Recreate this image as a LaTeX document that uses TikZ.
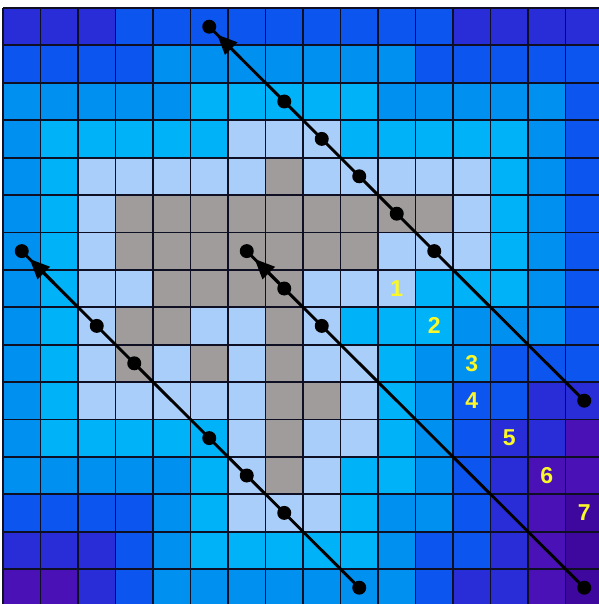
\documentclass[tikz,border=0pt]{standalone}
\usepackage{fontspec}
\newfontfamily\labfont{Liberation Sans}
\usetikzlibrary{calc,arrows.meta}
\definecolor{d0}{RGB}{160,156,156}
\definecolor{d1}{RGB}{170,206,250}
\definecolor{d2}{RGB}{0,178,248}
\definecolor{d3}{RGB}{0,145,240}
\definecolor{d4}{RGB}{12,85,238}
\definecolor{d5}{RGB}{40,45,215}
\definecolor{d6}{RGB}{74,18,182}
\definecolor{d7}{RGB}{62,8,158}
\definecolor{labyellow}{RGB}{250,248,40}
\definecolor{gridcol}{RGB}{15,15,35}
\begin{document}
\begin{tikzpicture}[x=37.5pt,y=-37.4pt,
  gridline/.style={line width=1.8pt,draw=gridcol},
  conn/.style={line width=2.9pt,draw=black},
  dotnode/.style={circle,fill=black,inner sep=0pt,minimum size=14pt},
  arrhead/.style={line width=2.9pt,draw=black,fill=black,-{Triangle[length=20pt,width=17pt]}},
  lab/.style={text=labyellow,font=\labfont\bfseries\fontsize{23}{23}\selectfont,inner sep=0pt}]
\useasboundingbox (-0.08,-0.2139) rectangle (15.893,15.936);
\fill[white] (-0.08,-0.2139) rectangle (15.893,15.936);
\begin{scope}
\clip (-0.08,-0.2139) rectangle (15.893,15.936);
\foreach \rowvals [count=\r from 0] in {
  {5,5,5,4,4,4,4,4,4,4,4,4,5,5,5,5},
  {4,4,4,4,3,3,3,3,3,3,3,4,4,4,4,4},
  {3,3,3,3,3,2,2,2,2,2,3,3,3,3,3,4},
  {3,2,2,2,2,2,1,1,1,2,2,2,2,2,3,4},
  {3,2,1,1,1,1,1,0,1,1,1,1,1,2,3,4},
  {3,2,1,0,0,0,0,0,0,0,0,0,1,2,3,4},
  {3,2,1,0,0,0,0,0,0,0,1,1,1,2,3,4},
  {3,2,1,1,0,0,0,0,1,1,1,2,2,2,3,4},
  {3,2,1,0,0,1,1,0,1,2,2,2,3,3,3,4},
  {3,2,1,0,1,0,1,0,1,1,2,3,3,4,4,4},
  {3,2,1,1,1,1,1,0,0,1,2,3,4,4,5,5},
  {3,2,2,2,2,2,1,0,1,1,2,3,4,5,5,6},
  {3,3,3,3,3,2,1,0,1,2,2,3,4,5,6,6},
  {4,4,4,4,3,2,1,1,1,2,3,3,4,5,6,7},
  {5,5,5,4,3,2,2,2,2,2,3,4,4,5,6,7},
  {6,6,5,4,3,3,3,3,3,3,3,4,5,5,6,7}} {
  \foreach \v [count=\c from 0] in \rowvals {
    \fill[fill=d\v] (\c,\r) rectangle ++(1,1);
  }
}
\foreach \k in {0,...,16} {
  \draw[gridline] (\k,0) -- (\k,16);
  \draw[gridline] (0,\k) -- (16,\k);
}
% line A (top right)
\node[dotnode] (a0) at (5.5,0.5) {};
\node[dotnode] (a1) at (7.5,2.5) {};
\node[dotnode] (a2) at (8.5,3.5) {};
\node[dotnode] (a3) at (9.5,4.5) {};
\node[dotnode] (a4) at (10.5,5.5) {};
\node[dotnode] (a5) at (11.5,6.5) {};
\node[dotnode] (a6) at (15.5,10.5) {};
\draw[conn] (a0.center) -- (a6.center);
\coordinate (at) at ($(a0.center)+(0.21,0.21)$);
\coordinate (ab) at ($(a0.center)+(0.85,0.85)$);
\draw[arrhead] (ab) -- (at);
% line B (left)
\node[dotnode] (b0) at (0.5,6.5) {};
\node[dotnode] (b1) at (2.5,8.5) {};
\node[dotnode] (b2) at (3.5,9.5) {};
\node[dotnode] (b3) at (5.5,11.5) {};
\node[dotnode] (b4) at (6.5,12.5) {};
\node[dotnode] (b5) at (7.5,13.5) {};
\node[dotnode] (b6) at (9.5,15.5) {};
\draw[conn] (b0.center) -- (b6.center);
\coordinate (bt) at ($(b0.center)+(0.21,0.21)$);
\coordinate (bb) at ($(b0.center)+(0.85,0.85)$);
\draw[arrhead] (bb) -- (bt);
% line C (middle)
\node[dotnode] (c0) at (6.5,6.5) {};
\node[dotnode] (c1) at (7.5,7.5) {};
\node[dotnode] (c2) at (8.5,8.5) {};
\node[dotnode] (c3) at (15.5,15.5) {};
\draw[conn] (c0.center) -- (c3.center);
\coordinate (ct) at ($(c0.center)+(0.21,0.21)$);
\coordinate (cb) at ($(c0.center)+(0.85,0.85)$);
\draw[arrhead] (cb) -- (ct);
% labels
\node[lab] (n1) at (10.5,7.5) {1};
\node[lab] (n2) at (11.5,8.5) {2};
\node[lab] (n3) at (12.5,9.5) {3};
\node[lab] (n4) at (12.5,10.5) {4};
\node[lab] (n5) at (13.5,11.5) {5};
\node[lab] (n6) at (14.5,12.5) {6};
\node[lab] (n7) at (15.5,13.5) {7};
\end{scope}
\end{tikzpicture}
\end{document}
